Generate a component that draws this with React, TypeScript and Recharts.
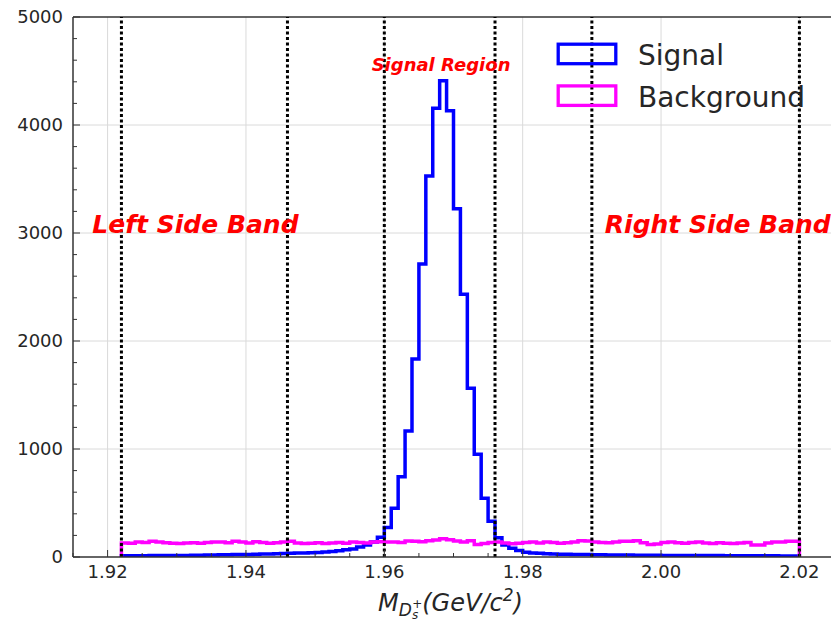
import React from 'react';
import {
  ComposedChart,
  Line,
  XAxis,
  YAxis,
  ReferenceLine,
  ReferenceDot,
  Legend,
  Label,
} from 'recharts';

// ---- data -----------------------------------------------------------------
const BIN_START = 1.922;
const BIN_WIDTH = 0.001;

// Signal counts per 0.001 GeV bin, 1.922 .. 2.020
const signalCounts = [
  11, 11, 12, 12, 13, 13, 14, 14,
  15, 15, 16, 17, 18, 19, 20, 21, 22, 23,
  24, 25, 27, 28, 30, 32, 34, 36, 38, 40,
  42, 47, 52, 58, 66, 75, 92, 110, 140, 182,
  272, 451, 744, 1167, 1833, 2713, 3528, 4154, 4410, 4132,
  3225, 2432, 1562, 951, 543, 330, 178, 111, 80, 60,
  45, 38, 34, 31, 28, 26, 25, 24, 23, 22,
  21, 20, 19, 19, 18, 18, 17, 17, 16, 16,
  15, 15, 15, 14, 14, 14, 13, 13, 13, 12,
  12, 12, 12, 11, 11, 11, 11, 10, 10, 10,
];

// Background counts per bin
const backgroundCounts = [
  130, 128, 138, 135, 145, 140, 132, 128,
  125, 130, 133, 128, 135, 140, 138, 132, 145, 138,
  130, 142, 135, 128, 132, 138, 145, 130, 125, 128,
  132, 125, 130, 135, 128, 140, 135, 130, 138, 142,
  138, 140, 135, 148, 145, 142, 150, 158, 170, 160,
  148, 140, 150, 115, 125, 135, 140, 130, 122, 128,
  135, 138, 130, 140, 135, 128, 132, 140, 150, 148,
  138, 135, 132, 140, 145, 145, 150, 132, 115, 120,
  135, 140, 132, 128, 135, 138, 130, 125, 132, 128,
  125, 130, 135, 110, 112, 130, 140, 138, 145, 145,
];

const bandEdges = [1.922, 1.946, 1.96, 1.976, 1.99, 2.02];
const xMajorTicks = [1.92, 1.94, 1.96, 1.98, 2.0, 2.02];
const yMajorTicks = [0, 1000, 2000, 3000, 4000, 5000];
const X_DOMAIN: [number, number] = [1.915, 2.025];
const Y_DOMAIN: [number, number] = [0, 5000];
const X_MINOR_STEP = 0.005;
const Y_MINOR_STEP = 200;

const series = [
  { key: 'signal', name: 'Signal', color: '#0000ff', values: signalCounts },
  { key: 'background', name: 'Background', color: '#ff00ff', values: backgroundCounts },
];

const annotations = [
  { text: 'Signal Region', x: 1.9682, y: 4500, size: 18 },
  { text: 'Left Side Band', x: 1.9327, y: 3000, size: 25 },
  { text: 'Right Side Band', x: 2.0082, y: 3000, size: 25 },
];

// ---- derived tables -------------------------------------------------------
const nBins = signalCounts.length;
const binEnd = BIN_START + nBins * BIN_WIDTH;
const rows: any[] = [];
{
  const first: any = { x: BIN_START };
  series.forEach((s) => (first[s.key] = 0));
  rows.push(first);
  for (let i = 0; i < nBins; i++) {
    const r: any = { x: BIN_START + i * BIN_WIDTH };
    series.forEach((s) => (r[s.key] = s.values[i]));
    rows.push(r);
  }
  const lastTop: any = { x: binEnd };
  series.forEach((s) => (lastTop[s.key] = s.values[nBins - 1]));
  rows.push(lastTop);
  const last: any = { x: binEnd };
  series.forEach((s) => (last[s.key] = 0));
  rows.push(last);
}

const xTicks: number[] = [];
for (let v = X_DOMAIN[0]; v <= X_DOMAIN[1] + 1e-9; v += X_MINOR_STEP) xTicks.push(+v.toFixed(4));
const yTicks: number[] = [];
for (let v = Y_DOMAIN[0]; v <= Y_DOMAIN[1]; v += Y_MINOR_STEP) yTicks.push(v);

const isMajorX = (v: number) => xMajorTicks.some((m) => Math.abs(m - v) < 1e-6);
const isMajorY = (v: number) => yMajorTicks.includes(v);

// ---- styling ---------------------------------------------------------------
const FONT = 'DejaVu Sans, Verdana, sans-serif';
const TEXT_COLOR = '#262626';
const AXIS_COLOR = '#333333';
const GRID_COLOR = '#dadada';

const XTick = (props: any) => {
  const { x, y, payload } = props;
  const v = payload.value;
  const major = isMajorX(v);
  return (
    <g>
      <line x1={x} x2={x} y1={y} y2={y - (major ? 7 : 4)} stroke={AXIS_COLOR} strokeWidth={1} />
      {major && (
        <text x={x} y={y + 21} textAnchor="middle" fontFamily={FONT} fontSize={18} fill={TEXT_COLOR}>
          {v.toFixed(2)}
        </text>
      )}
    </g>
  );
};

const YTick = (props: any) => {
  const { x, y, payload } = props;
  const v = payload.value;
  const major = isMajorY(v);
  return (
    <g>
      <line x1={x} x2={x + (major ? 7 : 4)} y1={y} y2={y} stroke={AXIS_COLOR} strokeWidth={1} />
      {major && (
        <text x={x - 10} y={y} dy="0.36em" textAnchor="end" fontFamily={FONT} fontSize={18} fill={TEXT_COLOR}>
          {v}
        </text>
      )}
    </g>
  );
};

const XLabel = (props: any) => {
  const vb = props.viewBox;
  const cx = vb.x + vb.width / 2 - 3;
  const base = vb.y + 54;
  return (
    <text x={cx} y={base} textAnchor="middle" fontFamily={FONT} fontStyle="italic" fontSize={24} fill={TEXT_COLOR}>
      <tspan>M</tspan>
      <tspan fontSize={17} dy={5}>D</tspan>
      <tspan fontSize={12} dy={3}>s</tspan>
      <tspan fontSize={12} dx={-6} dy={-11}>+</tspan>
      <tspan fontSize={24} dy={3}>(GeV/c</tspan>
      <tspan fontSize={17} dy={-10}>2</tspan>
      <tspan fontSize={24} dy={10}>)</tspan>
    </text>
  );
};

const LegendContent = (props: any) => {
  const payload = (props.payload || []).slice().sort(
    (a: any, b: any) =>
      series.findIndex((s) => s.name === a.value) - series.findIndex((s) => s.name === b.value)
  );
  return (
    <svg width={280} height={90} style={{ overflow: 'visible' }}>
      {payload.map((p: any, i: number) => (
        <g key={p.value}>
          <rect x={3.2} y={4.2 + i * 41.7} width={57.6} height={19.5} fill="none" stroke={p.color} strokeWidth={3.3} />
          <text x={83} y={25 + i * 41.7} fontFamily={FONT} fontSize={28} fill={TEXT_COLOR}>
            {p.value}
          </text>
        </g>
      ))}
    </svg>
  );
};

const makeAnnotationLabel = (text: string, size: number) => (props: any) => {
  const vb = props.viewBox || {};
  return (
    <text
      x={vb.x}
      y={vb.y}
      textAnchor="middle"
      fontFamily={FONT}
      fontWeight="bold"
      fontStyle="italic"
      fontSize={size}
      fill="#ff0000"
    >
      {text}
    </text>
  );
};

export default function App() {
  return (
    <div
      style={{
        position: 'absolute',
        left: 0,
        top: 0,
        width: 831,
        height: 623,
        overflow: 'hidden',
        background: '#ffffff',
      }}
    >
      <ComposedChart
        width={841}
        height={623}
        data={rows}
        margin={{ top: 17, right: 7, bottom: 0, left: 0 }}
      >
        <XAxis
          dataKey="x"
          type="number"
          domain={X_DOMAIN}
          allowDataOverflow
          ticks={xTicks}
          interval={0}
          tick={<XTick />}
          tickLine={false}
          tickSize={0}
          tickMargin={0}
          height={66}
          axisLine={{ stroke: AXIS_COLOR, strokeWidth: 1.5 }}
        >
          <Label content={XLabel} />
        </XAxis>
        <YAxis
          type="number"
          domain={Y_DOMAIN}
          allowDataOverflow
          ticks={yTicks}
          interval={0}
          tick={<YTick />}
          tickLine={false}
          tickSize={0}
          tickMargin={0}
          width={73}
          axisLine={{ stroke: AXIS_COLOR, strokeWidth: 1.5 }}
        />

        {xMajorTicks.map((v) => (
          <ReferenceLine key={'gx' + v} x={v} stroke={GRID_COLOR} strokeWidth={1} />
        ))}
        {yMajorTicks.slice(1, -1).map((v) => (
          <ReferenceLine key={'gy' + v} y={v} stroke={GRID_COLOR} strokeWidth={1} />
        ))}
        <ReferenceLine y={Y_DOMAIN[1]} stroke={AXIS_COLOR} strokeWidth={1.5} />
        <ReferenceLine x={X_DOMAIN[1]} stroke={AXIS_COLOR} strokeWidth={1.5} />

        {series.map((s) => (
          <Line
            key={s.key}
            dataKey={s.key}
            name={s.name}
            type="stepAfter"
            stroke={s.color}
            strokeWidth={3.5}
            dot={false}
            activeDot={false}
            isAnimationActive={false}
          />
        ))}

        {bandEdges.map((v) => (
          <ReferenceLine
            key={'band' + v}
            x={v}
            stroke="#000000"
            strokeWidth={3}
            strokeDasharray="3 2.5"
          />
        ))}

        {annotations.map((a) => (
          <ReferenceDot
            key={a.text}
            x={a.x}
            y={a.y}
            r={0}
            fill="none"
            stroke="none"
            ifOverflow="visible"
            label={{ content: makeAnnotationLabel(a.text, a.size) }}
          />
        ))}

        <Legend
          layout="vertical"
          align="center"
          verticalAlign="middle"
          wrapperStyle={{ position: 'absolute', left: 555, top: 40, width: 280, height: 90 }}
          content={LegendContent}
        />
      </ComposedChart>
    </div>
  );
}
